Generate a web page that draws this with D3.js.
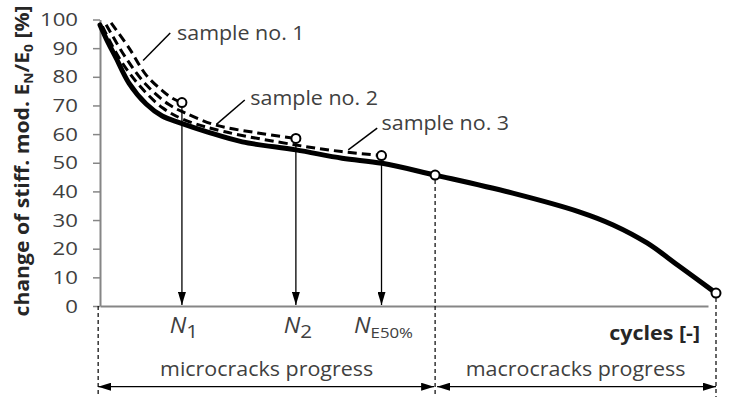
<!DOCTYPE html>
<html>
<head>
<meta charset="utf-8">
<script src="https://cdn.jsdelivr.net/npm/d3@7"></script>
<style>
    body { margin: 0; background: #fff; }
    text { font-family: "Open Sans", sans-serif; fill: #404040; }
</style>
</head>
<body>
<div id="chart"></div>
<script>
// values: x = cycles (share of fatigue life, %), y = E_N/E_0 (%)
const mainCurve = [[0, 98.1], [1.3, 92.0], [2.6, 86.6], [4.7, 77.8], [7.5, 70.5], [10.1, 66.3],
    [13.0, 63.9], [17.5, 60.7], [23.1, 57.3], [31.8, 54.5], [39.3, 51.6], [45.8, 49.8],
    [54.4, 45.7], [67.0, 39.4], [77.9, 32.8], [83.3, 28.3], [88.8, 22.0], [94.2, 13.6], [100, 4.5]];
const sample1 = [[1.8, 98.8], [4.7, 90.1], [7.5, 80.6], [10.2, 75.0], [11.7, 72.6], [13.3, 71.0]];
const sample2 = [[1.0, 98.2], [4.2, 86.6], [7.5, 77.2], [11.2, 70.3], [13.8, 67.4], [18.7, 63.2],
    [25.6, 60.4], [31.8, 58.5]];
const sample3 = [[0.4, 97.6], [3.1, 86.6], [6.3, 77.2], [10.2, 69.1], [13.8, 64.9], [20.3, 60.8],
    [31.8, 56.2], [39.2, 53.9], [45.7, 52.5]];

const sampleNames = ["sample no. 1", "sample no. 2", "sample no. 3"];
const sampleLabelPos = [[12.5, 92.8], [24.4, 70.2], [45.7, 61.4]];
const sampleLeaders = [[[11.4, 95.3], [7.0, 85.7]], [[23.5, 71.9], [18.9, 63.4]], [[45.0, 62.1], [40.3, 54.5]]];

const markerCycles = [13.3, 31.8, 45.7];
const markerSubs = ["1", "2", "E50%"];
const phaseBounds = [-0.3, 54.4, 100];
const phaseNames = ["microcracks progress", "macrocracks progress"];
const transitionPoint = [54.4, 45.7];
const failurePoint = [100, 4.5];
const yTicks = [0, 10, 20, 30, 40, 50, 60, 70, 80, 90, 100];
const xAxisEnd = 98.7;

const width = 729, height = 401;
const sx = 1.1;   // reference text is horizontally stretched

const svg = d3.select("#chart").append("svg")
    .attr("width", width)
    .attr("height", height);

const x = d3.scaleLinear().domain([0, 100]).range([100, 716]);
const y = d3.scaleLinear().domain([0, 100]).range([306, 19.5]);

// arrow heads
const defs = svg.append("defs");
defs.append("marker")
    .attr("id", "head")
    .attr("viewBox", "0 0 13 8")
    .attr("refX", 13).attr("refY", 4)
    .attr("markerWidth", 13).attr("markerHeight", 8)
    .attr("markerUnits", "userSpaceOnUse")
    .attr("orient", "auto-start-reverse")
    .append("path")
    .attr("d", "M0,0L13,4L0,8Z")
    .attr("fill", "#000");

function label(px, py, scale, rot) {
    return svg.append("g")
        .attr("transform", "translate(" + px + "," + py + ")" + (rot ? " rotate(" + rot + ")" : ""))
        .append("text")
        .attr("transform", "scale(" + scale + ",1)");
}

// y axis
const yAxis = svg.append("g")
    .attr("transform", "translate(" + x(0) + ",0)")
    .call(d3.axisLeft(y).tickValues(yTicks).tickSize(7).tickFormat("").tickSizeOuter(0));
yAxis.select(".domain").attr("stroke", "#868686").attr("stroke-width", 2);
yAxis.selectAll(".tick line").attr("stroke", "#868686").attr("stroke-width", 1.5);

yTicks.forEach(t => {
    label(78, y(t) + 6.5, 1.2)
        .attr("text-anchor", "end")
        .style("font-size", "18.5px")
        .text(t);
});

// x axis (no ticks)
const xAxisScale = x.copy().domain([0, xAxisEnd]).range([x(0), x(xAxisEnd)]);
const xAxis = svg.append("g")
    .attr("transform", "translate(0," + y(0) + ")")
    .call(d3.axisBottom(xAxisScale).tickValues([]).tickSizeOuter(0));
xAxis.select(".domain").attr("stroke", "#868686").attr("stroke-width", 2);

// phase borders
const borderTops = [y(0), y(transitionPoint[1]) + 5, y(failurePoint[1]) + 5];
svg.selectAll(".border")
    .data(phaseBounds)
    .enter()
    .append("line")
    .attr("x1", d => x(d)).attr("x2", d => x(d))
    .attr("y1", (d, i) => borderTops[i])
    .attr("y2", 397)
    .attr("stroke", "#000")
    .attr("stroke-width", 1.2)
    .attr("stroke-dasharray", "4,3");

// phase double arrows
svg.selectAll(".phase")
    .data(phaseNames)
    .enter()
    .append("line")
    .attr("x1", (d, i) => x(phaseBounds[i]) + (i ? 2 : 0))
    .attr("x2", (d, i) => x(phaseBounds[i + 1]) - (i ? 0 : 1))
    .attr("y1", 386.7).attr("y2", 386.7)
    .attr("stroke", "#000")
    .attr("stroke-width", 1.3)
    .attr("marker-start", "url(#head)")
    .attr("marker-end", "url(#head)");

phaseNames.forEach((name, i) => {
    label((x(phaseBounds[i]) + x(phaseBounds[i + 1])) / 2, 376, sx)
        .attr("text-anchor", "middle")
        .style("font-size", "19.5px")
        .text(name);
});

// arrows down to the axis
const markerTops = [sample1[sample1.length - 1][1], sample2[sample2.length - 1][1], sample3[sample3.length - 1][1]];
svg.selectAll(".drop")
    .data(markerCycles)
    .enter()
    .append("line")
    .attr("x1", d => x(d)).attr("x2", d => x(d))
    .attr("y1", (d, i) => y(markerTops[i]) + 5)
    .attr("y2", y(0) - 1)
    .attr("stroke", "#000")
    .attr("stroke-width", 1.3)
    .attr("marker-end", "url(#head)");

markerCycles.forEach((c, i) => {
    const t = label(x(c) + 2, 333, 1.12).attr("text-anchor", "middle");
    t.append("tspan").style("font-style", "italic").style("font-size", "21px").text("N");
    t.append("tspan")
        .attr("dy", 5)
        .style("font-size", markerSubs[i].length > 1 ? "15px" : "18.5px")
        .text(markerSubs[i]);
});

label(700, 340, sx)
    .attr("text-anchor", "end")
    .style("font-size", "19.5px")
    .style("font-weight", "bold")
    .style("fill", "#262626")
    .text("cycles [-]");

// curves
const line = d3.line()
    .x(d => x(d[0]))
    .y(d => y(d[1]))
    .curve(d3.curveCatmullRom.alpha(0.5));

svg.selectAll(".sample")
    .data([sample1, sample2, sample3])
    .enter()
    .append("path")
    .attr("d", line)
    .attr("fill", "none")
    .attr("stroke", "#000")
    .attr("stroke-width", 3)
    .attr("stroke-dasharray", "9,5");

svg.append("path")
    .datum(mainCurve)
    .attr("d", line)
    .attr("fill", "none")
    .attr("stroke", "#000")
    .attr("stroke-width", 5)
    .attr("stroke-linecap", "round");

// sample labels with leader lines
svg.selectAll(".leader")
    .data(sampleLeaders)
    .enter()
    .append("line")
    .attr("x1", d => x(d[0][0])).attr("y1", d => y(d[0][1]))
    .attr("x2", d => x(d[1][0])).attr("y2", d => y(d[1][1]))
    .attr("stroke", "#000")
    .attr("stroke-width", 1.5);

sampleNames.forEach((name, i) => {
    label(x(sampleLabelPos[i][0]), y(sampleLabelPos[i][1]), sx)
        .style("font-size", "19.5px")
        .text(name);
});

// points
const points = [sample1[sample1.length - 1], sample2[sample2.length - 1], sample3[sample3.length - 1],
    transitionPoint, failurePoint];
svg.selectAll(".pt")
    .data(points)
    .enter()
    .append("circle")
    .attr("cx", d => x(d[0]))
    .attr("cy", d => y(d[1]))
    .attr("r", 4.5)
    .attr("fill", "#fff")
    .attr("stroke", "#000")
    .attr("stroke-width", 2);

// y axis title
const title = label(29, 161, 1, -90)
    .attr("text-anchor", "middle")
    .style("font-size", "20px")
    .style("font-weight", "bold")
    .style("fill", "#262626");
title.append("tspan").text("change of stiff. mod. E");
title.append("tspan").attr("dy", 4).style("font-size", "13px").text("N");
title.append("tspan").attr("dy", -4).text("/E");
title.append("tspan").attr("dy", 4).style("font-size", "13px").text("0");
title.append("tspan").attr("dy", -4).text(" [%]");
const titleLen = title.node().getComputedTextLength();
title.attr("transform", "scale(" + (311 / titleLen) + ",1)");
</script>
</body>
</html>
